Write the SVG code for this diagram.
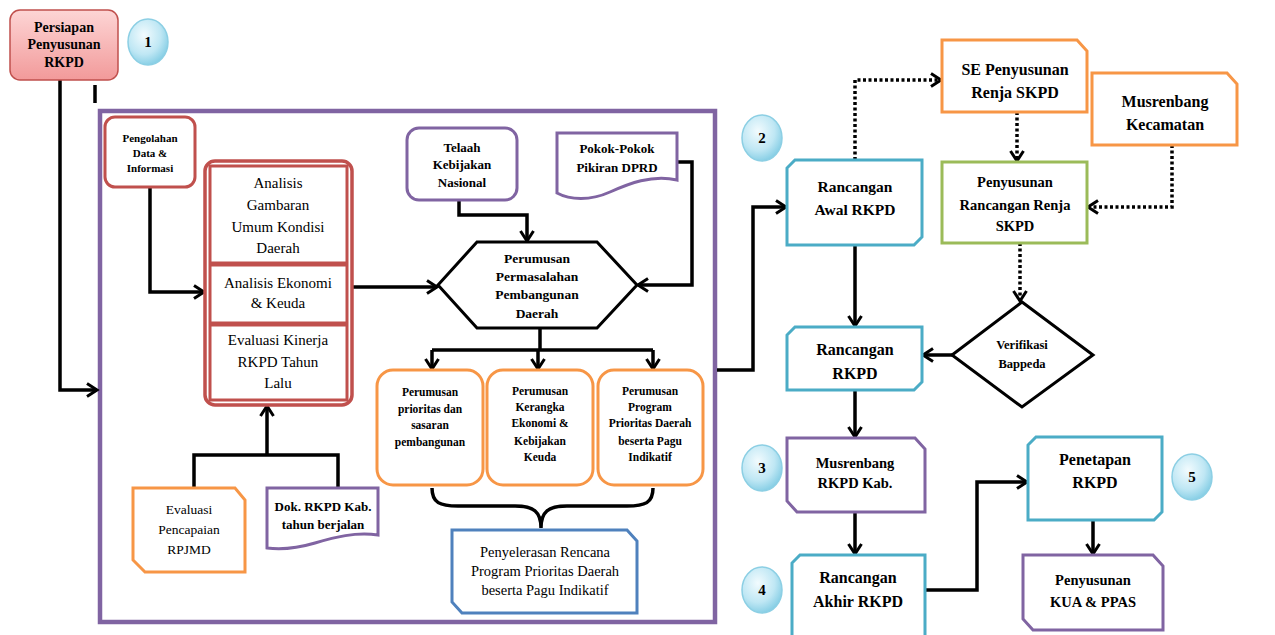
<svg xmlns="http://www.w3.org/2000/svg" width="1275" height="635" viewBox="0 0 1275 635">
<defs>
<linearGradient id="pink" x1="0" y1="0" x2="0" y2="1"><stop offset="0" stop-color="#FDD5D5"/><stop offset="1" stop-color="#F29A9A"/></linearGradient>
<radialGradient id="bub" cx="0.4" cy="0.35" r="0.7"><stop offset="0" stop-color="#F2FBFE"/><stop offset="0.6" stop-color="#BFE7F4"/><stop offset="1" stop-color="#7FCBE3"/></radialGradient>
<marker id="ar" markerUnits="userSpaceOnUse" markerWidth="16" markerHeight="16" refX="12" refY="8" orient="auto"><path d="M2,1.5 L12,8 L2,14.5" fill="none" stroke="#000" stroke-width="3"/></marker>
<style>
.t{font-family:"Liberation Serif","Times New Roman",serif;fill:#000;text-anchor:middle}
.b{font-weight:bold}
.ln{fill:none;stroke:#000;stroke-width:3.5}
.dt{fill:none;stroke:#000;stroke-width:3.5;stroke-dasharray:3 2.5}
.red{fill:#fff;stroke:#C0504D;stroke-width:3}
.pur{fill:#fff;stroke:#8064A2;stroke-width:3}
.ora{fill:#fff;stroke:#F79646;stroke-width:3}
.blu{fill:#fff;stroke:#4BACC6;stroke-width:3}
.dbl{fill:#fff;stroke:#4F81BD;stroke-width:3}
.grn{fill:#fff;stroke:#9BBB59;stroke-width:3}
.bub{fill:url(#bub);stroke:#8CCFE4;stroke-width:1.5}
</style>
</defs>
<rect width="1275" height="635" fill="#fff"/>

<g id="frame"><rect x="100" y="111" width="615" height="511" fill="none" stroke="#8064A2" stroke-width="4.5"/></g>

<g id="connectors">
<path class="ln" d="M60,80 V390 H97" marker-end="url(#ar)"/>
<path class="ln" d="M95,85 V103" stroke-width="2"/>
<path class="ln" d="M150,187 V292 H204" marker-end="url(#ar)"/>
<path class="ln" d="M352,287 H437" marker-end="url(#ar)"/>
<path class="ln" d="M459,200 V215 H527 V241" marker-end="url(#ar)"/>
<path class="ln" d="M677,162 H692 V285 H638" marker-end="url(#ar)"/>
<path class="ln" d="M540,328 V350"/>
<path class="ln" d="M432,350 H653"/>
<path class="ln" d="M432,350 V369" marker-end="url(#ar)"/>
<path class="ln" d="M538,350 V369" marker-end="url(#ar)"/>
<path class="ln" d="M653,350 V369" marker-end="url(#ar)"/>
<path class="ln" d="M432,488 C432,503 440,506 458,506 L515,506 C534,506 541,512 541,528 C541,512 548,506 567,506 L627,506 C645,506 653,503 653,488"/>
<path class="ln" d="M194,488 V455 H338 V488"/>
<path class="ln" d="M267,455 V406" marker-end="url(#ar)"/>
<path class="ln" d="M717,370 H753 V207 H786" marker-end="url(#ar)"/>
<path class="dt" d="M855,160 V80 H941" marker-end="url(#ar)"/>
<path class="dt" d="M1017,112 V161" marker-end="url(#ar)"/>
<path class="dt" d="M1172,145 V207 H1088" marker-end="url(#ar)"/>
<path class="dt" d="M1020,243 V301" marker-end="url(#ar)"/>
<path class="ln" d="M952,355 H923" marker-end="url(#ar)"/>
<path class="ln" d="M855,245 V326" marker-end="url(#ar)"/>
<path class="ln" d="M855,390 V437" marker-end="url(#ar)"/>
<path class="ln" d="M855,512 V554" marker-end="url(#ar)"/>
<path class="ln" d="M925,590 H977 V482 H1027" marker-end="url(#ar)"/>
<path class="ln" d="M1093,520 V554" marker-end="url(#ar)"/>
</g>

<g id="persiapan"><rect x="10" y="10" width="108" height="70" rx="10" fill="url(#pink)" stroke="#C0504D" stroke-width="1.5"/>
<text class="t b" font-size="14" x="64" y="32">Persiapan</text><text class="t b" font-size="14" x="64" y="49">Penyusunan</text><text class="t b" font-size="14" x="64" y="67">RKPD</text></g>
<g id="step1"><ellipse class="bub" cx="148" cy="42" rx="20" ry="23"/><text class="t b" font-size="15" x="148" y="47">1</text></g>

<g id="pengolahan"><rect class="red" x="105" y="117" width="90" height="70" rx="10"/>
<text class="t b" font-size="11" x="150" y="142">Pengolahan</text><text class="t b" font-size="11" x="150" y="157">Data &amp;</text><text class="t b" font-size="11" x="150" y="172">Informasi</text></g>

<g id="analisis">
<rect x="205" y="161" width="147" height="244" rx="10" fill="#fff" stroke="#C0504D" stroke-width="3.5"/>
<rect x="210" y="166" width="137" height="234" fill="none" stroke="#C0504D" stroke-width="3"/>
<line x1="210" y1="264" x2="347" y2="264" stroke="#C0504D" stroke-width="5"/>
<line x1="210" y1="324" x2="347" y2="324" stroke="#C0504D" stroke-width="5"/>
<text class="t" font-size="15" x="278" y="188">Analisis</text><text class="t" font-size="15" x="278" y="210">Gambaran</text><text class="t" font-size="15" x="278" y="232">Umum Kondisi</text><text class="t" font-size="15" x="278" y="253">Daerah</text>
<text class="t" font-size="15" x="278" y="288">Analisis Ekonomi</text><text class="t" font-size="15" x="278" y="308">&amp; Keuda</text>
<text class="t" font-size="15" x="278" y="345">Evaluasi Kinerja</text><text class="t" font-size="15" x="278" y="367">RKPD Tahun</text><text class="t" font-size="15" x="278" y="388">Lalu</text>
</g>

<g id="telaah"><rect class="pur" x="407" y="128" width="110" height="72" rx="12"/>
<text class="t b" font-size="13" x="462" y="152">Telaah</text><text class="t b" font-size="13" x="462" y="169">Kebijakan</text><text class="t b" font-size="13" x="462" y="187">Nasional</text></g>

<g id="pokok"><path class="pur" d="M557,133 H677 V180 C652,174 628,184 610,192 C590,201 570,200 557,193 Z"/>
<text class="t b" font-size="13" x="617" y="153">Pokok-Pokok</text><text class="t b" font-size="13" x="617" y="172">Pikiran DPRD</text></g>

<g id="perumusan-masalah"><polygon points="438,285 477,242 597,242 637,285 597,328 477,328" fill="#fff" stroke="#000" stroke-width="3"/>
<text class="t b" font-size="13.5" x="537" y="263">Perumusan</text><text class="t b" font-size="13.5" x="537" y="281">Permasalahan</text><text class="t b" font-size="13.5" x="537" y="299">Pembangunan</text><text class="t b" font-size="13.5" x="537" y="318">Daerah</text></g>

<g id="prioritas"><rect class="ora" x="377" y="370" width="106" height="115" rx="16"/>
<text class="t b" font-size="11.5" x="430" y="396">Perumusan</text><text class="t b" font-size="11.5" x="430" y="413">prioritas dan</text><text class="t b" font-size="11.5" x="430" y="429">sasaran</text><text class="t b" font-size="11.5" x="430" y="446">pembangunan</text></g>
<g id="kerangka"><rect class="ora" x="487" y="370" width="106" height="115" rx="16"/>
<text class="t b" font-size="11.5" x="540" y="395">Perumusan</text><text class="t b" font-size="11.5" x="540" y="411">Kerangka</text><text class="t b" font-size="11.5" x="540" y="427">Ekonomi &amp;</text><text class="t b" font-size="11.5" x="540" y="445">Kebijakan</text><text class="t b" font-size="11.5" x="540" y="461">Keuda</text></g>
<g id="program"><rect class="ora" x="598" y="370" width="105" height="115" rx="16"/>
<text class="t b" font-size="11.5" x="650" y="395">Perumusan</text><text class="t b" font-size="11.5" x="650" y="411">Program</text><text class="t b" font-size="11.5" x="650" y="427">Prioritas Daerah</text><text class="t b" font-size="11.5" x="650" y="445">beserta Pagu</text><text class="t b" font-size="11.5" x="650" y="461">Indikatif</text></g>

<g id="penyelerasan"><path class="dbl" d="M452,530 H627 L637,541 V613 H462 L452,602 Z"/>
<text class="t" font-size="14.5" x="545" y="557">Penyelerasan Rencana</text><text class="t" font-size="14.5" x="545" y="576">Program Prioritas Daerah</text><text class="t" font-size="14.5" x="545" y="595">beserta Pagu Indikatif</text></g>

<g id="evaluasi-rpjmd"><path class="ora" d="M133,488 H235 L245,500 V572 H145 L133,560 Z"/>
<text class="t" font-size="13.5" x="189" y="514">Evaluasi</text><text class="t" font-size="13.5" x="189" y="534">Pencapaian</text><text class="t" font-size="13.5" x="189" y="554">RPJMD</text></g>

<g id="dok-rkpd"><path class="pur" d="M267,488 H378 V535 C355,532 335,537 315,543 C298,548 282,550 267,548 Z"/>
<text class="t b" font-size="13" x="323" y="511">Dok. RKPD Kab.</text><text class="t b" font-size="13" x="323" y="529">tahun berjalan</text></g>

<g id="step2"><ellipse class="bub" cx="762" cy="138" rx="20" ry="23"/><text class="t b" font-size="15" x="762" y="143">2</text></g>
<g id="rancangan-awal"><path class="blu" d="M795,160 H922 V237 L914,245 H787 V168 Z"/>
<text class="t b" font-size="15.5" x="855" y="192">Rancangan</text><text class="t b" font-size="15.5" x="855" y="215">Awal RKPD</text></g>

<g id="se-penyusunan"><path class="ora" d="M942,40 H1077 L1087,51 V112 H942 Z"/>
<text class="t b" font-size="16" x="1015" y="75">SE Penyusunan</text><text class="t b" font-size="16" x="1015" y="98">Renja SKPD</text></g>

<g id="musrenbang-kec"><path class="ora" d="M1092,73 H1227 L1237,84 V145 H1092 Z"/>
<text class="t b" font-size="16" x="1165" y="107">Musrenbang</text><text class="t b" font-size="16" x="1165" y="130">Kecamatan</text></g>

<g id="renja"><rect class="grn" x="942" y="162" width="145" height="81"/>
<text class="t b" font-size="14.5" x="1015" y="187">Penyusunan</text><text class="t b" font-size="14.5" x="1015" y="210">Rancangan Renja</text><text class="t b" font-size="14.5" x="1015" y="231">SKPD</text></g>

<g id="verifikasi"><polygon points="1022,302 1093,355 1022,407 952,355" fill="#fff" stroke="#000" stroke-width="3"/>
<text class="t b" font-size="12.5" x="1022" y="349">Verifikasi</text><text class="t b" font-size="12.5" x="1022" y="368">Bappeda</text></g>

<g id="rancangan-rkpd"><path class="blu" d="M795,327 H922 V382 L914,390 H787 V335 Z"/>
<text class="t b" font-size="16" x="855" y="355">Rancangan</text><text class="t b" font-size="16" x="855" y="379">RKPD</text></g>

<g id="step3"><ellipse class="bub" cx="762" cy="468" rx="20" ry="23"/><text class="t b" font-size="15" x="762" y="473">3</text></g>
<g id="musrenbang-rkpd"><path class="pur" d="M787,438 H915 L925,449 V512 H797 L787,501 Z"/>
<text class="t b" font-size="14.5" x="855" y="468">Musrenbang</text><text class="t b" font-size="14.5" x="855" y="488">RKPD Kab.</text></g>

<g id="step4"><ellipse class="bub" cx="762" cy="590" rx="20" ry="23"/><text class="t b" font-size="15" x="762" y="595">4</text></g>
<g id="rancangan-akhir"><path class="blu" d="M800,555 H925 V640 H792 V563 Z"/>
<text class="t b" font-size="16" x="858" y="583">Rancangan</text><text class="t b" font-size="16" x="858" y="607">Akhir RKPD</text></g>

<g id="penetapan"><path class="blu" d="M1036,437 H1162 V512 L1154,520 H1028 V445 Z"/>
<text class="t b" font-size="16" x="1095" y="465">Penetapan</text><text class="t b" font-size="16" x="1095" y="488">RKPD</text></g>
<g id="step5"><ellipse class="bub" cx="1192" cy="477" rx="20" ry="23"/><text class="t b" font-size="15" x="1192" y="482">5</text></g>

<g id="kua-ppas"><path class="pur" d="M1023,555 H1153 L1163,566 V630 H1033 L1023,619 Z"/>
<text class="t b" font-size="14.5" x="1093" y="585">Penyusunan</text><text class="t b" font-size="14.5" x="1093" y="607">KUA &amp; PPAS</text></g>
</svg>
